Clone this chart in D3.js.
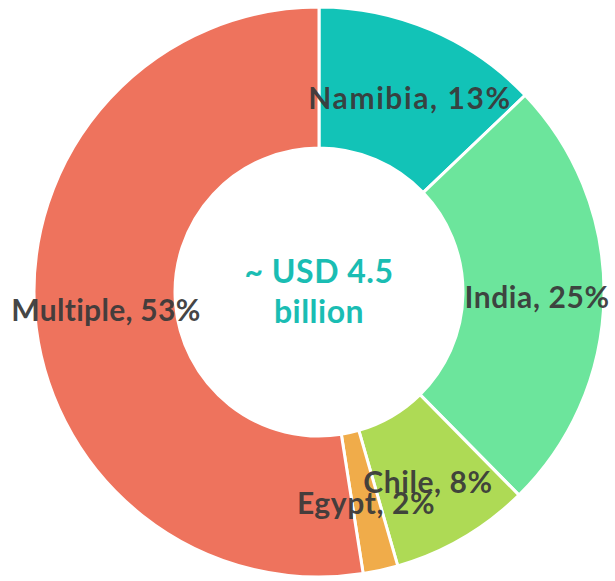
<!DOCTYPE html>
<html>
<head>
<meta charset="utf-8">
<script src="https://cdn.jsdelivr.net/npm/d3@7"></script>
<style>
  html, body { margin: 0; padding: 0; background: #ffffff; }
  svg { display: block; }
</style>
</head>
<body>
<svg id="chart" width="615" height="581"></svg>
<script>
const categories = ["Namibia", "India", "Chile", "Egypt", "Multiple"];
const shares = [13, 25, 8, 2, 53];
const colors = ["#12C3B7", "#6CE59C", "#AEDA55", "#F0AC4A", "#EE735D"];
const labelText = ["Namibia, 13%", "India, 25%", "Chile, 8%", "Egypt, 2%", "Multiple, 53%"];
const centerLines = ["~ USD 4.5", "billion"];

const svg = d3.select("#chart");
const cx = 319, cy = 292, outerR = 285, innerR = 144;
const g = svg.append("g").attr("transform", `translate(${cx},${cy})`);

const data = categories.map((c, i) => ({ name: c, value: shares[i], color: colors[i], label: labelText[i] }));
const pie = d3.pie().value(d => d.value).sort(null);
const arcs = pie(data);
const arc = d3.arc().innerRadius(innerR).outerRadius(outerR);

g.selectAll("path.slice").data(arcs).join("path")
  .attr("class", "slice")
  .attr("d", arc)
  .attr("fill", d => d.data.color)
  .attr("stroke", "#ffffff")
  .attr("stroke-width", 3)
  .attr("stroke-linejoin", "miter");

const labelPos = {
  "Namibia": [91, -191],
  "India": [218, 8],
  "Chile": [109, 193],
  "Egypt": [47, 214],
  "Multiple": [-213, 21]
};
const labelSpacing = { "Namibia": 1.6, "India": 0.6, "Chile": 0.6, "Egypt": 0.6, "Multiple": 0.3 };
g.selectAll("text.lbl").data(arcs).join("text")
  .attr("class", "lbl")
  .attr("x", d => labelPos[d.data.name][0])
  .attr("y", d => labelPos[d.data.name][1])
  .attr("text-anchor", "middle")
  .attr("dominant-baseline", "middle")
  .attr("font-family", "Lato, 'DejaVu Sans', sans-serif")
  .attr("font-weight", "bold")
  .attr("font-size", 30)
  .attr("letter-spacing", d => labelSpacing[d.data.name])
  .attr("fill", "#3a3a3a")
  .attr("fill-opacity", 0.95)
  .text(d => d.data.label);

g.selectAll("text.center").data(centerLines).join("text")
  .attr("class", "center")
  .attr("x", 0)
  .attr("y", (d, i) => -17 + i * 40)
  .attr("text-anchor", "middle")
  .attr("dominant-baseline", "middle")
  .attr("font-family", "Lato, 'DejaVu Sans', sans-serif")
  .attr("font-weight", "bold")
  .attr("font-size", 32)
  .attr("letter-spacing", 0.5)
  .attr("fill", "#1ABDB3")
  .text(d => d);
</script>
</body>
</html>
